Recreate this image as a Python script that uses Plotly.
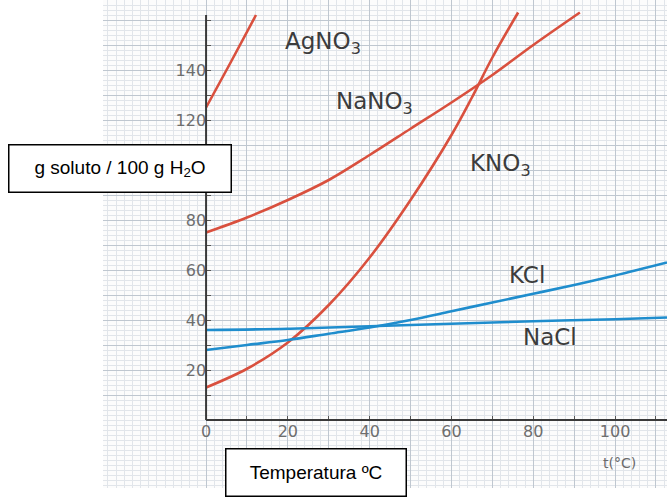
import plotly.graph_objects as go

# ---- data ----
agno3_t = [0, 6, 12.2]
agno3_s = [125, 143, 162]

nano3_t = [0, 10, 20, 30, 40, 50, 60, 70, 80, 91.4]
nano3_s = [75, 81, 88, 96, 106, 116.5, 127, 138, 150, 163]

kno3_t = [0, 10, 20, 30, 40, 50, 60, 65, 70, 76.3]
kno3_s = [13, 20.5, 31, 46, 65, 88, 114, 129, 145, 163]

kcl_t = [0, 10, 20, 30, 40, 50, 60, 70, 80, 90, 100, 112.7]
kcl_s = [28, 30, 32, 34.5, 37, 40, 43.5, 47, 50.5, 54, 57.8, 63]

nacl_t = [0, 20, 40, 60, 80, 100, 112.7]
nacl_s = [36, 36.5, 37.5, 38.5, 39.5, 40.3, 41]

x_tick_vals = list(range(0, 111, 10))
x_tick_text = ["" if v % 20 else str(v) for v in x_tick_vals]
y_tick_vals = list(range(10, 161, 10))
y_labelled = [20, 40, 60, 80, 120, 140]   # 100 is hidden behind the axis-title box
y_tick_text = [str(v) if v in y_labelled else "" for v in y_tick_vals]

labels = ["AgNO<sub>3</sub>", "NaNO<sub>3</sub>", "KNO<sub>3</sub>", "KCl", "NaCl"]
label_t = [28.6, 41.1, 71.9, 78.5, 84.1]
label_s = [150.8, 126.8, 102, 58, 33.2]

# ---- layout geometry ----
W, H = 667, 498
ML, MR, MT, MB = 103, 0, 0, 10
X_RANGE = [-25.2, 112.7]
Y_RANGE = [-27.2, 168]
RED = "#d9503e"
BLUE = "#1f8dcd"

fig = go.Figure()
series = [
    (agno3_t, agno3_s, RED), (nano3_t, nano3_s, RED), (kno3_t, kno3_s, RED),
    (kcl_t, kcl_s, BLUE), (nacl_t, nacl_s, BLUE),
]
for t, s, c in series:
    fig.add_trace(go.Scatter(x=t, y=s, mode="lines",
                             line=dict(color=c, width=2.6, shape="spline", smoothing=1.0),
                             showlegend=False, hoverinfo="skip"))

# axis lines
fig.add_shape(type="line", xref="x", yref="y", x0=0, x1=X_RANGE[1], y0=0, y1=0,
              line=dict(color="#3a3a3a", width=2))
fig.add_shape(type="line", xref="x", yref="y", x0=0, x1=0, y0=0, y1=162,
              line=dict(color="#3a3a3a", width=2))

for txt, t, s in zip(labels, label_t, label_s):
    fig.add_annotation(x=t, y=s, xref="x", yref="y", text=txt, showarrow=False,
                       xanchor="center", yanchor="middle",
                       font=dict(family="DejaVu Sans", size=23, color="#3c3c3c"))

fig.add_annotation(x=101, y=-17.2, xref="x", yref="y", text="t(°C)", showarrow=False,
                   xanchor="center", yanchor="middle",
                   font=dict(family="DejaVu Sans", size=14, color="#6a6a6a"))

pw = W - ML - MR
ph = H - MT - MB
def px(xp):
    return (xp - ML) / pw
def py(yp):
    return (H - MB - yp) / ph

fig.add_annotation(x=px(120), y=py(168.5), xref="paper", yref="paper",
                   xanchor="center", yanchor="middle",
                   text="g soluto / 100 g H<sub>2</sub>O", showarrow=False,
                   width=221, height=46, bgcolor="white", bordercolor="black",
                   borderwidth=1.5, borderpad=0,
                   font=dict(family="Liberation Sans", size=19, color="black"))
fig.add_annotation(x=px(316), y=py(472.5), xref="paper", yref="paper",
                   xanchor="center", yanchor="middle",
                   text="Temperatura ºC", showarrow=False,
                   width=179, height=46, bgcolor="white", bordercolor="black",
                   borderwidth=1.5, borderpad=0,
                   font=dict(family="Liberation Sans", size=19, color="black"))

xpos = (0 - Y_RANGE[0]) / (Y_RANGE[1] - Y_RANGE[0])
ypos = (0 - X_RANGE[0]) / (X_RANGE[1] - X_RANGE[0])

tickfont = dict(family="DejaVu Sans", size=16, color="#6e6e6e")
fig.update_xaxes(range=X_RANGE, anchor="free", position=xpos, automargin=False,
                 tickmode="array", tickvals=x_tick_vals, ticktext=x_tick_text,
                 ticks="inside", ticklen=4, tickcolor="#555",
                 showgrid=True, gridcolor="#bfc7d0", gridwidth=1,
                 minor=dict(dtick=2, tick0=0, showgrid=True, gridcolor="#e1e5ea", gridwidth=1),
                 zeroline=False, showline=False, tickfont=tickfont, fixedrange=True)
fig.update_yaxes(range=Y_RANGE, anchor="free", position=ypos, automargin=False,
                 tickmode="array", tickvals=y_tick_vals, ticktext=y_tick_text,
                 ticks="inside", ticklen=4, tickcolor="#555",
                 showgrid=True, gridcolor="#bfc7d0", gridwidth=1,
                 minor=dict(dtick=2, tick0=0, showgrid=True, gridcolor="#e1e5ea", gridwidth=1),
                 zeroline=False, showline=False, tickfont=tickfont, fixedrange=True)

fig.update_layout(width=W, height=H, margin=dict(l=ML, r=MR, t=MT, b=MB),
                  paper_bgcolor="white", plot_bgcolor="#fcfcfc")

fig.write_html("out.html", config={"displayModeBar": False},
               post_script="document.body.style.margin='0px';document.body.style.padding='0px';")
